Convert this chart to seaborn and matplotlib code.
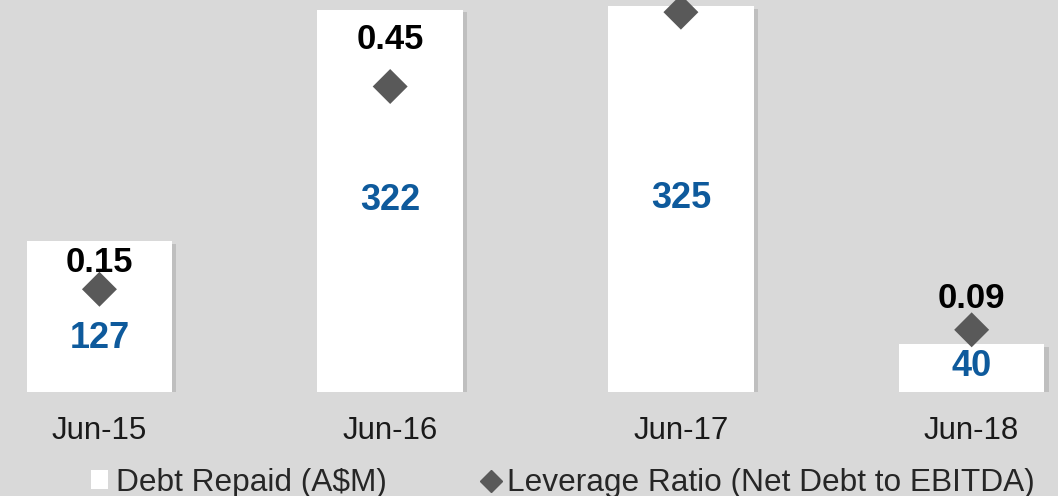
import seaborn as sns
import matplotlib.pyplot as plt
from matplotlib import patheffects
from matplotlib.patches import Patch
from matplotlib.lines import Line2D

dates = ['Jun-15', 'Jun-16', 'Jun-17', 'Jun-18']
debt_repaid = [127, 322, 325, 40]
leverage = [0.15, 0.45, 0.56, 0.09]
leverage_labels = ['0.15', '0.45', None, '0.09']

bg = '#d9d9d9'
blue = '#0e5a9c'
marker_grey = '#595959'

sns.set_style('white')
plt.rcParams['font.family'] = ['Liberation Sans', 'DejaVu Sans']

fig = plt.figure(figsize=(10.58, 4.96), dpi=100, facecolor=bg)
ax = fig.add_axes([0, 0.2097, 1, 0.7903])
ax.set_facecolor(bg)

sns.barplot(x=dates, y=debt_repaid, color='white', width=0.5, saturation=1, ax=ax)
for bar in ax.patches:
    bar.set_edgecolor('none')
    bar.set_path_effects([patheffects.SimplePatchShadow(offset=(3, -2), shadow_rgbFace='#7f7f7f', alpha=0.28),
                          patheffects.Normal()])

# value labels inside the bars, shifted a little where Excel placed them by hand
bar_shift = [-16, 0, 0, 1]
for i, (v, dy) in enumerate(zip(debt_repaid, bar_shift)):
    ax.annotate(str(v), (i, v / 2), xytext=(0, dy), textcoords='offset points',
                ha='center', va='center', fontsize=26, fontweight='bold', color=blue)

ax2 = ax.twinx()
sns.scatterplot(x=dates, y=leverage, ax=ax2, marker='D', s=317, color=marker_grey,
                edgecolor='none', zorder=3)

lev_shift = [19.5, 34, 0, 22.5]
for i, (v, lab, dy) in enumerate(zip(leverage, leverage_labels, lev_shift)):
    if lab is None:
        continue
    ax2.annotate(lab, (i, v), xytext=(0, dy), textcoords='offset points',
                 ha='center', va='center', fontsize=25, fontweight='bold', color='black')

ax.set_ylim(0, 330)
ax2.set_ylim(-0.002, 0.578)
ax.set_xlim(-0.342, 3.297)

for a in (ax, ax2):
    a.set_xlabel('')
    a.set_ylabel('')
    a.set_yticks([])
    for s in a.spines.values():
        s.set_visible(False)
ax.tick_params(axis='x', length=0, pad=17, labelsize=22.5, labelcolor='#1a1a1a')
ax2.tick_params(axis='x', length=0)

handles = [Patch(facecolor='white', edgecolor='none'),
           Line2D([], [], marker='D', linestyle='none', color=marker_grey, markersize=11)]
fig.legend(handles, ['Debt Repaid (A$M)', 'Leverage Ratio (Net Debt to EBITDA)'],
           loc='center', bbox_to_anchor=(0.532, 0.026), ncol=2, frameon=False,
           fontsize=22.8, handlelength=0.55, handleheight=0.55, handletextpad=0.25,
           columnspacing=3.0, labelcolor='#262626', borderpad=0, borderaxespad=0)

fig.savefig('out.png', dpi=100, facecolor=bg)
